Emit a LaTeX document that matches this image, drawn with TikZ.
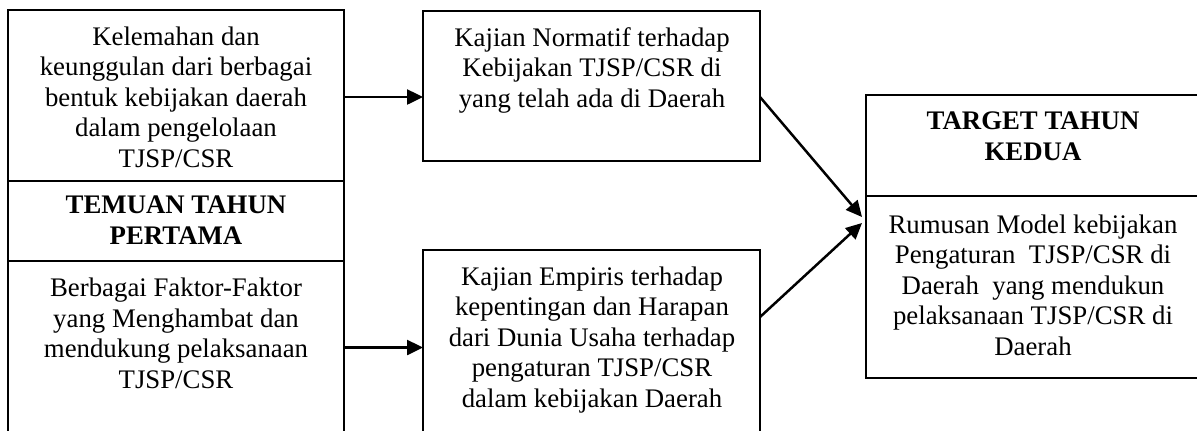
\documentclass[tikz,border=0pt]{standalone}
\usepackage{fontspec}
\setmainfont{Liberation Serif}
\usetikzlibrary{arrows.meta,fit}
\begin{document}
\begin{tikzpicture}[x=0.5pt,y=-0.5pt,
  cell/.style={draw, line width=1pt, inner sep=0pt, outer sep=0pt, fit={#1}},
  txt/.style={font=\fontsize{13.4}{15.25}\selectfont, align=center, anchor=base, inner sep=0pt},
  arr/.style={line width=1.25pt, -{Triangle[length=8pt,width=7.5pt]}}]
\useasboundingbox (0,0) rectangle (1197,430);
\clip (0,0) rectangle (1197,430);
% cells
\node[cell={(8,10) (344,181)}] (L1) {};
\node[cell={(8,181) (344,261)}] (L2) {};
\node[cell={(8,261) (344,430)}, draw=none] (L3) {};
\draw[line width=1pt] (L3.north west) -- (8,440);
\draw[line width=1pt] (L3.north east) -- (344,440);
\node[cell={(423,11) (760,161)}] (M1) {};
\node[cell={(423,250) (760,445)}] (M2) {};
\node[cell={(866,95) (1205,196)}] (R1) {};
\node[cell={(866,196) (1205,378)}] (R2) {};
% texts (base = baseline of last line)
\node[txt] (L1t) at (176,167) {Kelemahan dan\\keunggulan dari berbagai\\bentuk kebijakan daerah\\dalam pengelolaan\\TJSP/CSR};
\node[txt, font=\fontsize{13.4}{15.25}\selectfont\bfseries] (L2t) at (176,244) {TEMUAN TAHUN\\PERTAMA};
\node[txt] (L3t) at (176,388) {Berbagai Faktor-Faktor\\yang Menghambat dan\\mendukung pelaksanaan\\TJSP/CSR};
\node[txt] (M1t) at (592,107) {Kajian Normatif terhadap\\Kebijakan TJSP/CSR di\\yang telah ada di Daerah};
\node[txt] (M2t) at (592,407) {Kajian Empiris terhadap\\kepentingan dan Harapan\\dari Dunia Usaha terhadap\\pengaturan TJSP/CSR\\dalam kebijakan Daerah};
\node[txt, font=\fontsize{13.4}{15.25}\selectfont\bfseries] (R1t) at (1033,160) {TARGET TAHUN\\KEDUA};
\node[txt] (R2t) at (1033,355) {Rumusan Model kebijakan\\Pengaturan~ TJSP/CSR di\\Daerah~ yang mendukun\\pelaksanaan TJSP/CSR di\\Daerah};
% connectors
\coordinate (tipA) at (862,217);
\coordinate (tipB) at (862,223);
\draw[arr] (L1.east |- 0,97) -- (M1.west |- 0,97);
\draw[arr] (L3.east |- M2.center) -- (M2.west);
\draw[arr] (M1.east |- 0,97) -- (tipA);
\draw[arr] ([yshift=-33.5pt]M2.north east) -- (tipB);
\end{tikzpicture}
\end{document}
